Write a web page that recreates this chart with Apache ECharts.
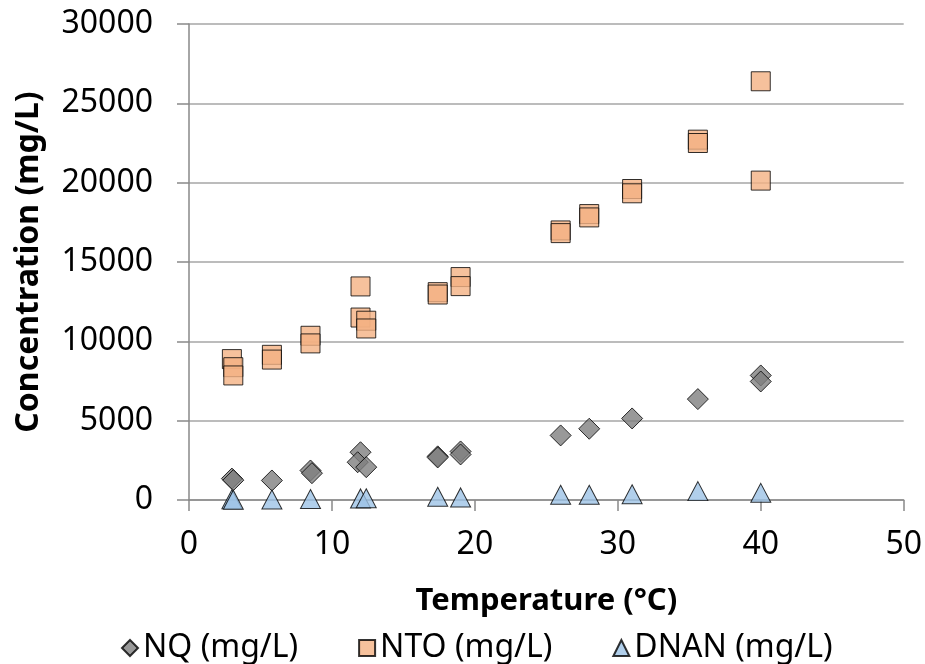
<!DOCTYPE html>
<html>
<head>
<meta charset="utf-8">
<style>
    html, body { margin: 0; padding: 0; background: #fff; }
    #scatter-chart { width: 925px; height: 664px; }
</style>
<script src="https://cdn.jsdelivr.net/npm/echarts@6/dist/echarts.min.js"></script>
</head>
<body>
<div id="scatter-chart"></div>
<script>
    // values: [temperature, concentration]
    var nqData = [[3, 1350], [3.1, 1250], [5.8, 1230], [8.5, 1860], [8.6, 1690], [12, 3010], [11.8, 2380], [12.4, 2070],
        [17.4, 2750], [17.4, 2680], [19, 3060], [19, 2870], [26, 4070], [28, 4490], [31, 5140], [35.6, 6360], [40, 7850], [40, 7470]];
    var ntoData = [[3, 8880], [3.1, 8370], [3.1, 7850], [5.8, 9150], [5.8, 8850], [8.5, 10350], [8.5, 9870], [12, 13460],
        [12, 11500], [12.4, 11300], [12.4, 10810], [17.4, 13100], [17.4, 12950], [19, 14050], [19, 13480], [26, 16990],
        [26, 16820], [28, 18020], [28, 17810], [31, 19600], [31, 19330], [35.6, 22710], [35.6, 22500], [40, 26390], [40, 20130]];
    var dnanData = [[3, 40], [3.1, 20], [5.8, 30], [8.5, 60], [12, 100], [12.4, 110], [17.4, 200], [19, 160],
        [26, 330], [28, 330], [31, 360], [35.6, 560], [40, 450]];
    var seriesNames = ['NQ (mg/L)', 'NTO (mg/L)', 'DNAN (mg/L)'];

    var font = 'Noto Sans';
    var axisGray = '#898989';

    var myChart = echarts.init(document.getElementById('scatter-chart'));
    myChart.setOption({
        animation: false,
        textStyle: { fontFamily: font },
        grid: { left: 189, right: 21, top: 24, bottom: 164 },
        legend: {
            data: seriesNames,
            left: 116,
            top: 627,
            itemWidth: 16,
            itemHeight: 16,
            itemGap: 60,
            textStyle: { fontSize: 32, color: '#000', fontFamily: font }
        },
        xAxis: {
            type: 'value',
            min: 0,
            max: 50,
            interval: 10,
            name: 'Temperature (°C)',
            nameLocation: 'middle',
            nameGap: 86,
            nameTextStyle: { fontSize: 31, fontWeight: 'bold', color: '#000' },
            axisLine: { lineStyle: { color: axisGray, width: 1.5 } },
            axisTick: { show: true, inside: false, length: 11, lineStyle: { color: axisGray, width: 1.5 } },
            splitLine: { show: false },
            axisLabel: { fontSize: 32, color: '#000', margin: 29 }
        },
        yAxis: {
            type: 'value',
            min: 0,
            max: 30000,
            interval: 5000,
            name: 'Concentration (mg/L)',
            nameLocation: 'middle',
            nameGap: 144,
            nameTextStyle: { fontSize: 32, fontWeight: 'bold', color: '#000' },
            axisLine: { show: true, lineStyle: { color: axisGray, width: 1.5 } },
            axisTick: { show: true, inside: false, length: 12, lineStyle: { color: axisGray, width: 1.5 } },
            splitLine: { show: true, lineStyle: { color: '#a6a6a6', width: 1.5 } },
            axisLabel: { fontSize: 32, color: '#000', margin: 36, formatter: function (v) { return String(v); } }
        },
        series: [
            {
                name: seriesNames[0],
                type: 'scatter',
                symbol: 'diamond',
                symbolSize: [21, 21],
                data: nqData,
                itemStyle: { color: '#7f7f7f', borderColor: '#000', borderWidth: 1 }
            },
            {
                name: seriesNames[1],
                type: 'scatter',
                symbol: 'rect',
                symbolSize: 19,
                data: ntoData,
                itemStyle: { color: '#f4b183', borderColor: '#000', borderWidth: 1 }
            },
            {
                name: seriesNames[2],
                type: 'scatter',
                symbol: 'triangle',
                symbolSize: [20, 19],
                data: dnanData,
                itemStyle: { color: '#9dc3e6', borderColor: '#000', borderWidth: 1 }
            }
        ]
    });
</script>
</body>
</html>
